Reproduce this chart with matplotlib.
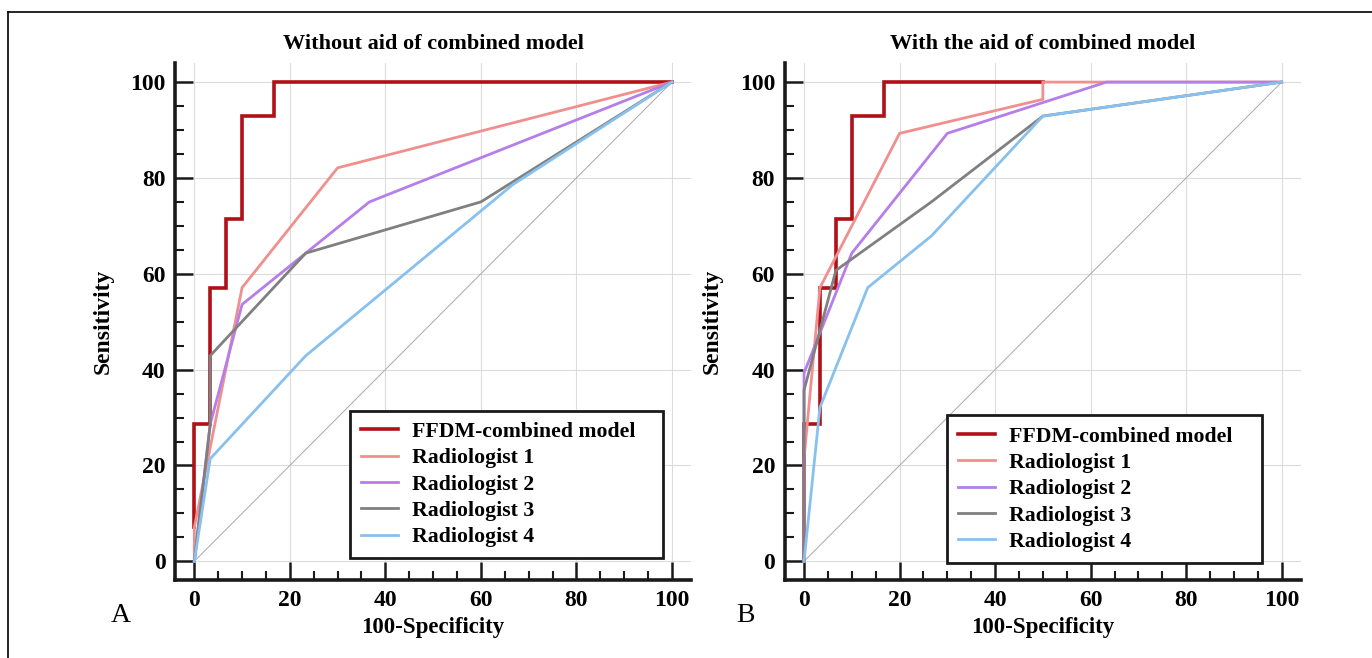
import numpy as np
import matplotlib
matplotlib.use("Agg")
import matplotlib.pyplot as plt
from matplotlib.lines import Line2D
from matplotlib.ticker import MultipleLocator

plt.rcParams["font.family"] = ["Liberation Serif", "DejaVu Serif"]
plt.rcParams["font.weight"] = "bold"

# =====================================
# Data (100-Specificity, Sensitivity)
# =====================================

labels = [
    "FFDM-combined model",
    "Radiologist 1",
    "Radiologist 2",
    "Radiologist 3",
    "Radiologist 4",
]
colors = ["#b01016", "#f0908e", "#b57ee8", "#808080", "#88c0ee"]
widths = [2.6, 2.0, 2.0, 2.0, 2.0]

# without aid
a_ffdm_x = [0, 0, 3.33, 3.33, 6.67, 6.67, 10, 10, 16.67, 16.67, 100]
a_ffdm_y = [7.1, 28.6, 28.6, 57.1, 57.1, 71.4, 71.4, 92.9, 92.9, 100, 100]
a_r1_x = [0, 0, 10, 30, 100]
a_r1_y = [0, 7.1, 57.1, 82.1, 100]
a_r2_x = [0, 3.33, 10, 23.33, 36.67, 100]
a_r2_y = [0, 28.6, 53.6, 64.3, 75, 100]
a_r3_x = [0, 3.33, 3.33, 23.33, 60, 100]
a_r3_y = [0, 28.6, 42.9, 64.3, 75, 100]
a_r4_x = [0, 3.33, 23.33, 66.67, 100]
a_r4_y = [0, 21.4, 42.9, 78.6, 100]

# with aid
b_ffdm_x = [0, 0, 3.33, 3.33, 6.67, 6.67, 10, 10, 16.67, 16.67, 50]
b_ffdm_y = [0, 28.6, 28.6, 57.1, 57.1, 71.4, 71.4, 92.9, 92.9, 100, 100]
b_r1_x = [0, 0, 3.33, 20, 50, 50, 100]
b_r1_y = [0, 21.4, 57.1, 89.3, 96.4, 100, 100]
b_r2_x = [0, 0, 10, 30, 63.33, 100]
b_r2_y = [0, 39.3, 64.3, 89.3, 100, 100]
b_r3_x = [0, 0, 6.67, 26.67, 50, 100]
b_r3_y = [0, 35.7, 60.7, 75, 92.9, 100]
b_r4_x = [0, 3.33, 13.33, 26.67, 50, 100]
b_r4_y = [0, 32.1, 57.1, 67.9, 92.9, 100]

panels = [
    {
        "title": "Without aid of combined model",
        "letter": "A",
        "curves": [(a_ffdm_x, a_ffdm_y), (a_r1_x, a_r1_y), (a_r2_x, a_r2_y),
                   (a_r3_x, a_r3_y), (a_r4_x, a_r4_y)],
    },
    {
        "title": "With the aid of combined model",
        "letter": "B",
        "curves": [(b_ffdm_x, b_ffdm_y), (b_r1_x, b_r1_y), (b_r2_x, b_r2_y),
                   (b_r3_x, b_r3_y), (b_r4_x, b_r4_y)],
    },
]

fig = plt.figure(figsize=(13.72, 6.58), dpi=100)

axes_rects = [
    [0.1277, 0.1178, 0.3760, 0.7866],
    [0.5721, 0.1178, 0.3760, 0.7866],
]
# legend box (left, bottom, width) in axes fraction
legend_box = [(0.339, 0.043, 0.607), (0.314, 0.034, 0.611)]
letter_pos = [(0.088, 0.065), (0.543, 0.065)]

for i, panel in enumerate(panels):
    ax = fig.add_axes(axes_rects[i])

    # grid, only inside data range
    for g in range(0, 101, 20):
        ax.plot([0, 104], [g, g], color="#dcdcdc", lw=0.8, zorder=0)
        ax.plot([g, g], [0, 104], color="#dcdcdc", lw=0.8, zorder=0)

    # chance line
    ax.plot([0, 100], [0, 100], color="#a8a8a8", lw=0.7, zorder=1)

    for k, (xs, ys) in enumerate(panel["curves"]):
        ax.plot(xs, ys, color=colors[k], lw=widths[k], label=labels[k],
                zorder=2 + k, solid_joinstyle="miter")

    ax.set_xlim(-4, 104)
    ax.set_ylim(-4, 104)

    for side in ["top", "right"]:
        ax.spines[side].set_visible(False)
    for side in ["left", "bottom"]:
        ax.spines[side].set_linewidth(2.6)
        ax.spines[side].set_color("#1a1a1a")

    ax.set_xticks(np.arange(0, 101, 20))
    ax.set_yticks(np.arange(0, 101, 20))
    ax.set_xticks(np.arange(0, 101, 5), minor=True)
    ax.set_yticks(np.arange(0, 101, 5), minor=True)
    ax.tick_params(which="major", direction="in", length=13, width=1.8,
                   color="#1a1a1a", labelsize=17, pad=7)
    ax.tick_params(which="minor", direction="in", length=6.5, width=1.5,
                   color="#1a1a1a")

    ax.set_title(panel["title"], fontsize=16, fontweight="bold", pad=10)
    ax.set_xlabel("100-Specificity", fontsize=16.5, fontweight="bold", labelpad=4)
    ax.set_ylabel("Sensitivity", fontsize=17, fontweight="bold", labelpad=12)

    lx, ly, lw = legend_box[i]
    leg = ax.legend(loc="lower left", bbox_to_anchor=(lx, ly, lw, 0.3),
                    mode="expand", borderaxespad=0, fancybox=False,
                    frameon=True, prop={"size": 15.7, "weight": "bold"},
                    handlelength=1.7, handletextpad=0.65, labelspacing=0.28,
                    borderpad=0.5)
    leg.get_frame().set_edgecolor("#1a1a1a")
    leg.get_frame().set_linewidth(2.0)
    leg.get_frame().set_alpha(1)

    fig.text(letter_pos[i][0], letter_pos[i][1], panel["letter"],
             fontsize=20, fontweight="normal", ha="center", va="center")

# thin frame around figure (cut at right and bottom)
fig.add_artist(Line2D([8 / 1372, 1], [1 - 12 / 658, 1 - 12 / 658],
                      color="black", lw=1.2, transform=fig.transFigure))
fig.add_artist(Line2D([8 / 1372, 8 / 1372], [0, 1 - 12 / 658],
                      color="black", lw=1.2, transform=fig.transFigure))

plt.savefig("out.png", dpi=100)
plt.close()
